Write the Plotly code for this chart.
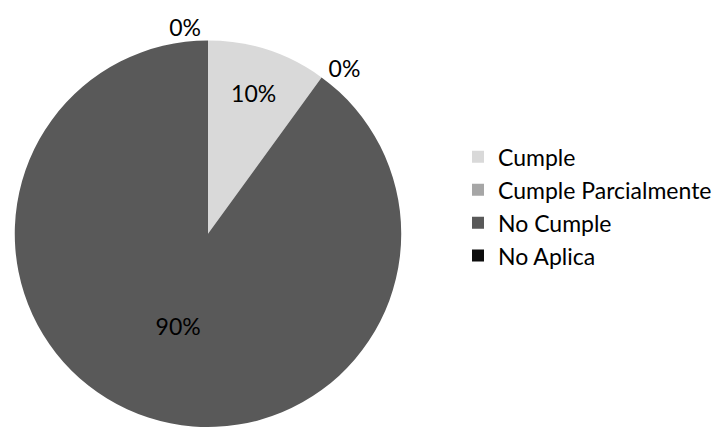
import plotly.graph_objects as go

categories = ["Cumple", "Cumple Parcialmente", "No Cumple", "No Aplica"]
values = [10, 0, 90, 0]
colors = ["#d9d9d9", "#a6a6a6", "#595959", "#0d0d0d"]

eps = 1e-6
plot_vals = [v if v > 0 else eps for v in values]
total = sum(values)
pct_text = [f"{round(v / total * 100)}%" for v in values]
positions = ["inside" if v > 0 else "outside" for v in values]

fig = go.Figure(go.Pie(
    labels=categories,
    values=plot_vals,
    text=pct_text,
    texttemplate="%{text}",
    textposition=positions,
    sort=False,
    direction="clockwise",
    rotation=0,
    marker=dict(colors=colors, line=dict(width=0)),
    textfont=dict(size=23, color="#000000", family="Lato"),
    insidetextorientation="horizontal",
    domain=dict(x=[10 / 720, 406 / 720], y=[0, 391 / 432]),
    showlegend=True,
))

fig.update_layout(
    width=720, height=432,
    margin=dict(l=0, r=0, t=0, b=0),
    paper_bgcolor="white",
    font=dict(family="Lato", size=23, color="#000000"),
    legend=dict(x=458 / 720, y=1 - 137 / 432, xanchor="left", yanchor="top",
                font=dict(size=23), itemwidth=30, tracegroupgap=0),
)

fig.write_html("out.html")
